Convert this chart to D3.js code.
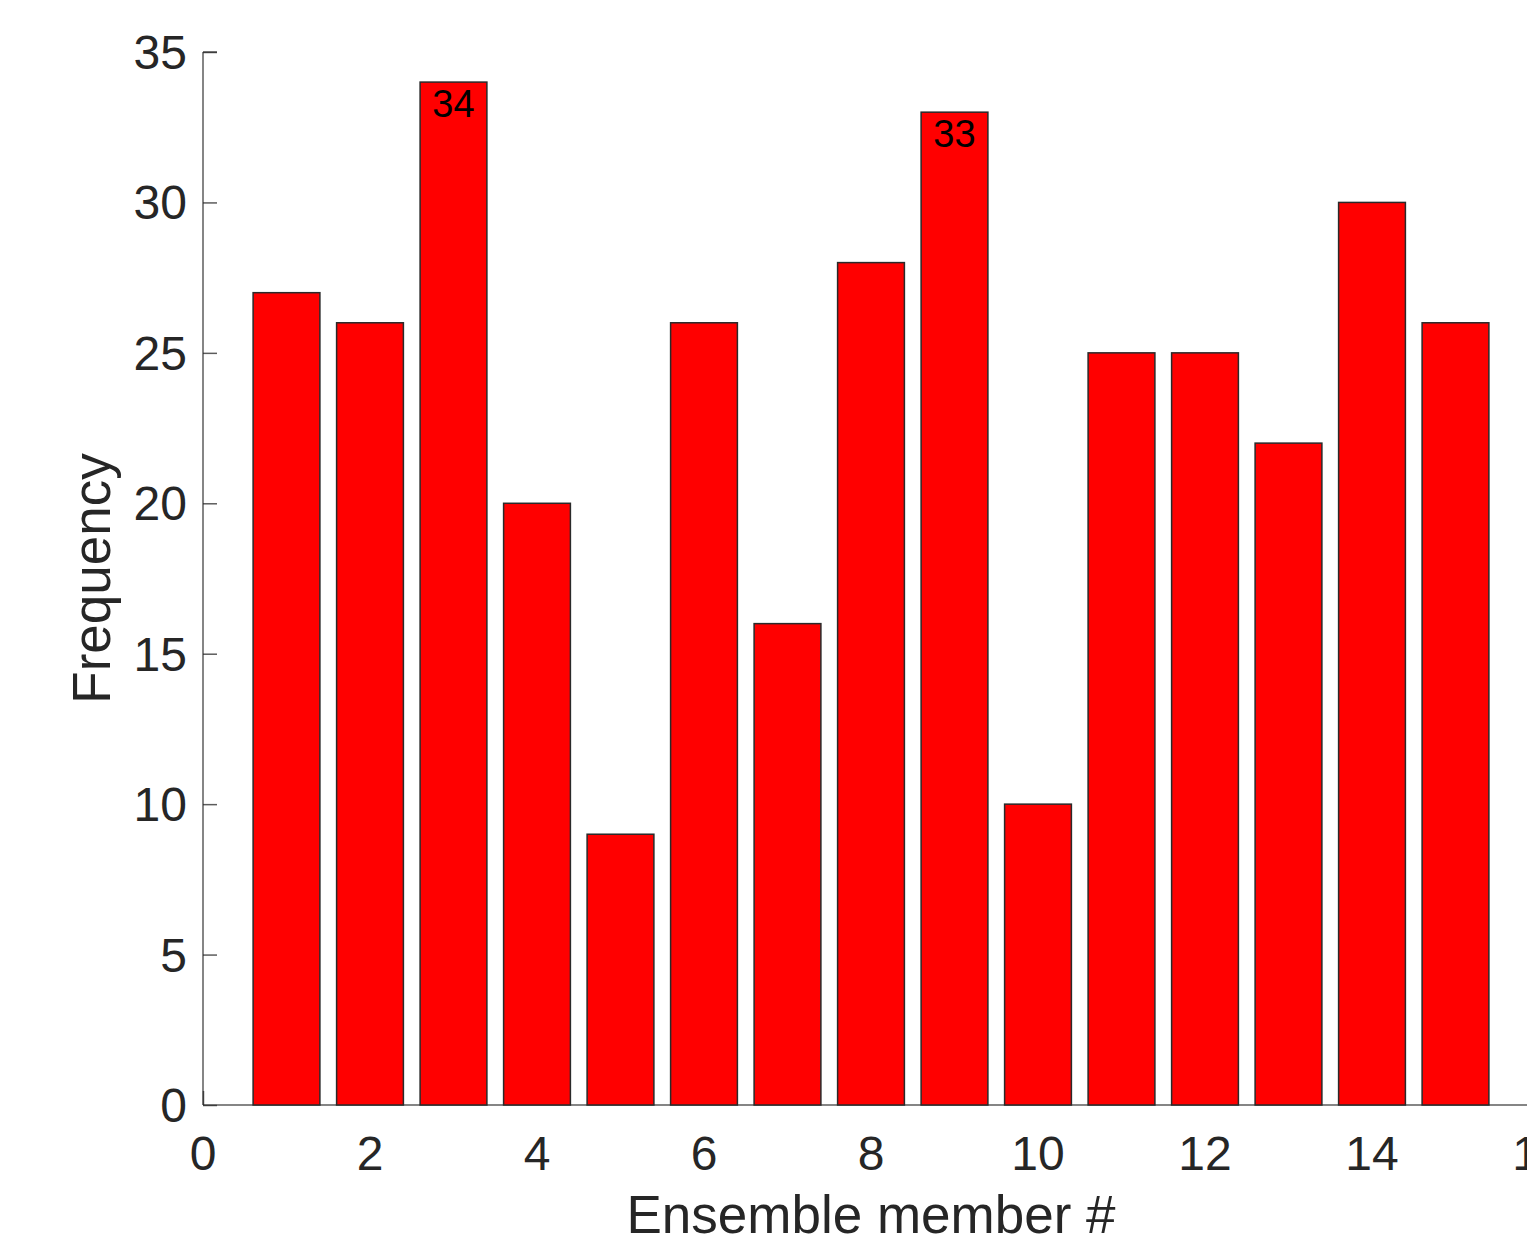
<!DOCTYPE html>
<html>
<head>
<meta charset="utf-8">
<script src="https://cdn.jsdelivr.net/npm/d3@7"></script>
<style>
  body { margin: 0; background: #fff; overflow: hidden; }
  text { font-family: "Liberation Sans", Arial, sans-serif; }
</style>
</head>
<body>
<div class="chart"></div>
<script>
// ensemble members and how often each one was picked
let members = [1,2,3,4,5,6,7,8,9,10,11,12,13,14,15]
let frequency = [27,26,34,20,9,26,16,28,33,10,25,25,22,30,26]
let labelled = [3, 9] // bars that carry their value
let xTicks = [0,2,4,6,8,10,12,14,16]
let yTicks = [0,5,10,15,20,25,30,35]

let W = 1527, H = 1237
let margin = { top: 52, left: 203, bottom: 132 }

let svg = d3.select(".chart").append("svg")
  .attr("width", W)
  .attr("height", H)

let x = d3.scaleLinear().domain([0, 16]).range([margin.left, 1539])
let y = d3.scaleLinear().domain([0, 35]).range([H - margin.bottom, margin.top])

const axisColor = "#262626"
const tickLen = 14

// y axis, ticks pointing inward
let yAxis = svg.append("g")
  .attr("transform", "translate(" + x(0) + ",0)")
  .call(d3.axisRight(y).tickValues(yTicks).tickSize(tickLen).tickFormat(""))
yAxis.select(".domain").attr("d", "M0," + y(35) + "H" + tickLen + "M0," + y(35) + "V" + y(0))

// x axis, ticks pointing up
let xAxis = svg.append("g")
  .attr("transform", "translate(0," + y(0) + ")")
  .call(d3.axisTop(x).tickValues(xTicks).tickSize(tickLen).tickFormat(""))
xAxis.select(".domain").attr("d", "M" + x(0) + ",0H" + W)

svg.selectAll(".domain, .tick line")
  .attr("stroke", axisColor)
  .attr("stroke-opacity", 0.75)
  .attr("stroke-width", 1.5)

// bars on top of the axis lines (as in the original)
let bw = x(0.8) - x(0)
svg.append("g").selectAll("rect")
  .data(members)
  .join("rect")
  .attr("x", d => x(d) - bw / 2)
  .attr("width", bw)
  .attr("y", (d, i) => y(frequency[i]))
  .attr("height", (d, i) => y(0) - y(frequency[i]))
  .attr("fill", "#ff0000")
  .attr("stroke", "#2a2a2a")
  .attr("stroke-width", 1.5)

svg.append("g").selectAll("text")
  .data(labelled)
  .join("text")
  .attr("x", d => x(d))
  .attr("y", d => y(frequency[d - 1]) + 35)
  .attr("text-anchor", "middle")
  .attr("font-size", 38)
  .attr("fill", "#000")
  .text(d => frequency[d - 1])

// tick labels
svg.append("g").selectAll("text")
  .data(yTicks)
  .join("text")
  .attr("x", 187)
  .attr("y", d => y(d) + 17)
  .attr("text-anchor", "end")
  .attr("font-size", 48)
  .attr("fill", axisColor)
  .text(d => d)

svg.append("g").selectAll("text")
  .data(xTicks)
  .join("text")
  .attr("x", d => x(d))
  .attr("y", y(0) + 65)
  .attr("text-anchor", "middle")
  .attr("font-size", 48)
  .attr("fill", axisColor)
  .text(d => d)

// axis titles
svg.append("text")
  .attr("x", 871)
  .attr("y", 1233)
  .attr("text-anchor", "middle")
  .attr("font-size", 53)
  .attr("fill", axisColor)
  .text("Ensemble member #")

svg.append("text")
  .attr("transform", "translate(110," + y(17.5) + ") rotate(-90)")
  .attr("text-anchor", "middle")
  .attr("font-size", 53)
  .attr("fill", axisColor)
  .text("Frequency")
</script>
</body>
</html>
